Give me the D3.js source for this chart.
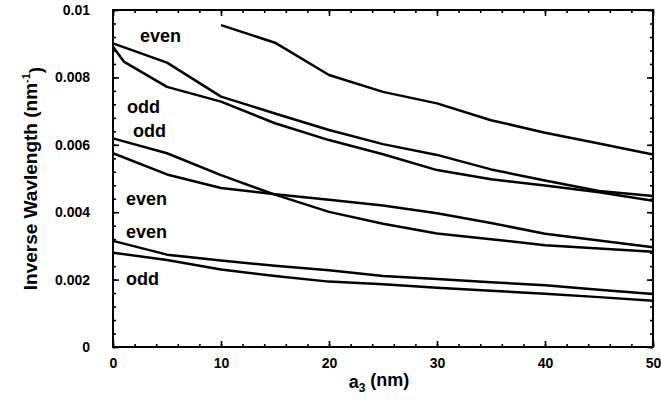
<!DOCTYPE html>
<html>
<head>
<meta charset="utf-8">
<script src="https://cdn.jsdelivr.net/npm/d3@7"></script>
<style>
  body { margin: 0; background: #fff; }
  text { font-family: "Liberation Sans", Arial, sans-serif; font-weight: bold; }
</style>
</head>
<body>
<script>
var width = 661;
var height = 411;
var margin = {top: 10, right: 8, bottom: 64, left: 113};

// x positions (a3, nm)
var xFull = [0, 5, 10, 15, 20, 25, 30, 35, 40, 45, 50];
var xFirst = [0, 1, 5, 10, 15, 20, 25, 30, 35, 40, 45, 50];
var xLate = [10, 15, 20, 25, 30, 35, 40, 45, 50];

// inverse wavelength values (nm^-1)
var seriesA = [0.00955, 0.00903, 0.00807, 0.00757, 0.00723, 0.00673, 0.00636, 0.00604, 0.00571];
var seriesB1 = [0.00901, 0.00844, 0.00743, 0.00693, 0.00644, 0.00602, 0.00570, 0.00527, 0.00494, 0.00463, 0.00448];
var seriesB2 = [0.00891, 0.00847, 0.00772, 0.00728, 0.00664, 0.00614, 0.00572, 0.00525, 0.00498, 0.00479, 0.00459, 0.00434];
var seriesC = [0.00619, 0.00575, 0.00510, 0.00452, 0.00401, 0.00366, 0.00337, 0.00320, 0.00302, 0.00292, 0.00283];
var seriesD = [0.00575, 0.00512, 0.00472, 0.00453, 0.00437, 0.00420, 0.00397, 0.00368, 0.00336, 0.00316, 0.00296];
var seriesE = [0.00315, 0.00274, 0.00257, 0.00241, 0.00228, 0.00211, 0.00202, 0.00192, 0.00183, 0.00170, 0.00157];
var seriesF = [0.00280, 0.00258, 0.00230, 0.00211, 0.00194, 0.00186, 0.00176, 0.00167, 0.00158, 0.00148, 0.00137];

var xTicks = [0, 10, 20, 30, 40, 50];
var yTicks = [0, 0.002, 0.004, 0.006, 0.008, 0.01];
var yTickLabels = ['0', '0.002', '0.004', '0.006', '0.008', '0.01'];

// annotation labels, in data units
var labelText = ['even', 'odd', 'odd', 'even', 'even', 'odd'];
var labelX = [2.5, 1.3, 1.85, 1.2, 1.2, 1.2];
var labelY = [0.00905, 0.00694, 0.00623, 0.00421, 0.00323, 0.00184];

var curves = [
  {x: xLate, y: seriesA},
  {x: xFull, y: seriesB1},
  {x: xFirst, y: seriesB2},
  {x: xFull, y: seriesC},
  {x: xFull, y: seriesD},
  {x: xFull, y: seriesE},
  {x: xFull, y: seriesF}
];

var svg = d3.select('body').append('svg')
  .attr('width', width)
  .attr('height', height);

var w = width - margin.left - margin.right;
var h = height - margin.top - margin.bottom;

var x = d3.scaleLinear().domain([0, 50]).range([margin.left, margin.left + w]);
var y = d3.scaleLinear().domain([0, 0.01]).range([margin.top + h, margin.top]);

var minorX = d3.range(0, 50.01, 2);
var minorY = d3.range(0, 0.01001, 0.0004);

function styleAxis(g) {
  g.select('.domain').remove();
  g.selectAll('line').attr('stroke', '#000').attr('stroke-width', 1.6);
  g.selectAll('text').attr('fill', '#000').style('font-size', '14px');
}

// minor ticks
svg.append('g').attr('transform', 'translate(0,' + y(0) + ')')
  .call(d3.axisBottom(x).tickValues(minorX).tickSize(-3).tickFormat(''))
  .call(styleAxis);
svg.append('g').attr('transform', 'translate(0,' + y(0.01) + ')')
  .call(d3.axisTop(x).tickValues(minorX).tickSize(-3).tickFormat(''))
  .call(styleAxis);
svg.append('g').attr('transform', 'translate(' + x(0) + ',0)')
  .call(d3.axisLeft(y).tickValues(minorY).tickSize(-3).tickFormat(''))
  .call(styleAxis);
svg.append('g').attr('transform', 'translate(' + x(50) + ',0)')
  .call(d3.axisRight(y).tickValues(minorY).tickSize(-3).tickFormat(''))
  .call(styleAxis);

// major ticks
svg.append('g').attr('transform', 'translate(0,' + y(0) + ')')
  .call(d3.axisBottom(x).tickValues(xTicks).tickSize(-6).tickPadding(11).tickFormat(d3.format('d')))
  .call(styleAxis);
svg.append('g').attr('transform', 'translate(0,' + y(0.01) + ')')
  .call(d3.axisTop(x).tickValues(xTicks).tickSize(-6).tickFormat(''))
  .call(styleAxis);
svg.append('g').attr('transform', 'translate(' + x(0) + ',0)')
  .call(d3.axisLeft(y).tickValues(yTicks).tickSize(-6).tickPadding(23)
    .tickFormat(function(d, i) { return yTickLabels[i]; }))
  .call(styleAxis);
svg.append('g').attr('transform', 'translate(' + x(50) + ',0)')
  .call(d3.axisRight(y).tickValues(yTicks).tickSize(-6).tickFormat(''))
  .call(styleAxis);

// frame
svg.append('rect')
  .attr('x', x(0)).attr('y', y(0.01))
  .attr('width', x(50) - x(0)).attr('height', y(0) - y(0.01))
  .attr('fill', 'none').attr('stroke', '#000').attr('stroke-width', 2);

var line = d3.line()
  .x(function(d) { return x(d[0]); })
  .y(function(d) { return y(d[1]); });

svg.append('g').selectAll('path')
  .data(curves)
  .enter().append('path')
  .attr('d', function(c) { return line(d3.zip(c.x, c.y)); })
  .attr('fill', 'none')
  .attr('stroke', '#000')
  .attr('stroke-width', 2.5)
  .attr('stroke-linejoin', 'round');

svg.append('g').selectAll('text')
  .data(labelText)
  .enter().append('text')
  .attr('x', function(d, i) { return x(labelX[i]); })
  .attr('y', function(d, i) { return y(labelY[i]); })
  .style('font-size', '18px')
  .text(function(d) { return d; });

// axis titles
var xt = svg.append('text')
  .attr('x', (x(0) + x(50)) / 2 - 4)
  .attr('y', 388)
  .attr('text-anchor', 'middle')
  .style('font-size', '18px');
xt.append('tspan').text('a');
xt.append('tspan').attr('dy', '0.3em').style('font-size', '12px').text('3');
xt.append('tspan').attr('dy', '-0.3em').text(' (nm)');

var yt = svg.append('text')
  .attr('transform', 'translate(37,' + ((y(0) + y(0.01)) / 2) + ') rotate(-90)')
  .attr('text-anchor', 'middle')
  .style('font-size', '19px');
yt.append('tspan').text('Inverse Wavlength (nm');
yt.append('tspan').attr('dy', '-0.6em').style('font-size', '11px').text('-1');
yt.append('tspan').attr('dy', '0.6em').text(')');
</script>
</body>
</html>
